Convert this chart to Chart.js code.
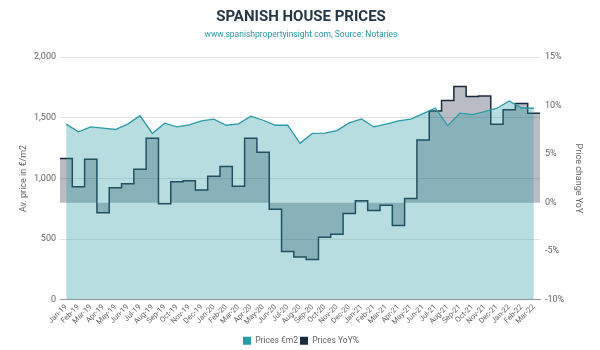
<!DOCTYPE html>
<html>
<head>
<meta charset="utf-8">
<script src="https://cdn.jsdelivr.net/npm/chart.js@4"></script>
<style>
  html, body { margin: 0; padding: 0; background: #fff; }
  #wrap { width: 600px; height: 350px; }
</style>
</head>
<body>
<div id="wrap"><canvas id="myChart" width="600" height="350"></canvas></div>
<script>
"use strict";

const months = [
  "Jan-19", "Feb-19", "Mar-19", "Apr-19", "May-19", "Jun-19", "Jul-19", "Aug-19", "Sep-19", "Oct-19", "Nov-19", "Dec-19",
  "Jan-20", "Feb-20", "Mar-20", "Apr-20", "May-20", "Jun-20", "Jul-20", "Aug-20", "Sep-20", "Oct-20", "Nov-20", "Dec-20",
  "Jan-21", "Feb-21", "Mar-21", "Apr-21", "May-21", "Jun-21", "Jul-21", "Aug-21", "Sep-21", "Oct-21", "Nov-21", "Dec-21",
  "Jan-22", "Feb-22", "Mar-22"
];

// average price in euros per m2
const prices = [
  1448, 1385, 1425, 1415, 1404, 1448, 1518, 1371, 1456, 1425, 1442, 1475,
  1489, 1439, 1450, 1513, 1480, 1439, 1439, 1290, 1371, 1374, 1395, 1458,
  1491, 1425, 1448, 1475, 1489, 1535, 1581, 1436, 1538, 1527, 1551, 1579,
  1639, 1581, 1579
];

// year on year change in %
const yoy = [
  4.55, 1.64, 4.48, -1.03, 1.54, 1.95, 3.46, 6.64, -0.1, 2.16, 2.26, 1.3,
  2.74, 3.73, 1.71, 6.64, 5.2, -0.68, -5.03, -5.6, -5.85, -3.56, -3.25, -1.1,
  0.2, -0.79, -0.27, -2.36, 0.44, 6.47, 9.45, 10.54, 11.98, 10.95, 10.99, 8.08,
  9.58, 10.24, 9.21
];

const priceTicks = [0, 500, 1000, 1500, 2000];
const yoyTicks = [-10, -5, 0, 5, 10, 15];

const teal = "#2b9aa8";
const navy = "#1c2a3e";
const greyText = "#666";

// steps span the full month, so pad both ends half a month
let yoyPoints = yoy.map((v, i) => ({ x: i, y: v }));
yoyPoints.unshift({ x: -0.5, y: yoy[0] });
yoyPoints.push({ x: yoy.length - 0.5, y: yoy[yoy.length - 1] });

Chart.defaults.font.family = "Roboto";
Chart.defaults.color = greyText;

const data = {
  labels: months,
  datasets: [
    {
      label: "Prices €m2",
      data: prices,
      yAxisID: "y",
      xAxisID: "x",
      borderColor: teal,
      backgroundColor: "rgba(43, 154, 168, 0.34)",
      borderWidth: 1.3,
      pointRadius: 0,
      fill: "origin",
      tension: 0,
    },
    {
      label: "Prices YoY%",
      data: yoyPoints,
      yAxisID: "y1",
      xAxisID: "x2",
      borderColor: navy,
      backgroundColor: "rgba(28, 42, 62, 0.31)",
      borderWidth: 1.5,
      pointRadius: 0,
      stepped: "middle",
      fill: "origin",
    },
  ],
};

const config = {
  type: "line",
  data: data,
  options: {
    responsive: false,
    animation: false,
    layout: { padding: { left: 14, right: 12, top: 0, bottom: -5 } },
    plugins: {
      title: {
        display: true,
        text: "SPANISH HOUSE PRICES",
        color: "#253746",
        font: { size: 15, weight: "bold" },
        padding: { top: 8, bottom: 4 },
      },
      subtitle: {
        display: true,
        text: "www.spanishpropertyinsight.com, Source: Notaries",
        color: teal,
        font: { size: 8.5 },
        padding: { top: 0, bottom: 17 },
      },
      legend: {
        position: "bottom",
        labels: {
          boxWidth: 8,
          boxHeight: 8,
          padding: 2,
          font: { size: 8.5 },
          color: greyText,
          generateLabels: (chart) =>
            Chart.defaults.plugins.legend.labels.generateLabels(chart).map((l) => {
              l.fillStyle = chart.data.datasets[l.datasetIndex].borderColor;
              l.lineWidth = 0;
              return l;
            }),
        },
      },
      tooltip: { enabled: false },
    },
    scales: {
      x: {
        type: "category",
        offset: true,
        afterFit: (s) => { s.height += 5; },
        grid: { display: false, drawTicks: false },
        border: { color: "#999", width: 1 },
        ticks: {
          autoSkip: false,
          maxRotation: 45,
          minRotation: 45,
          padding: 3,
          font: { size: 7.5 },
        },
      },
      x2: {
        type: "linear",
        display: false,
        min: -0.5,
        max: months.length - 0.5,
      },
      y: {
        position: "left",
        min: priceTicks[0],
        max: priceTicks[priceTicks.length - 1],
        afterBuildTicks: (s) => { s.ticks = priceTicks.map((v) => ({ value: v })); },
        afterFit: (s) => { s.width = 46; },
        grid: { color: "#e2e2e2", drawTicks: false },
        border: { display: false },
        ticks: { padding: 4, font: { size: 9 } },
        title: { display: true, text: "Av. price in €/m2", font: { size: 9 }, color: greyText },
      },
      y1: {
        position: "right",
        min: yoyTicks[0],
        max: yoyTicks[yoyTicks.length - 1],
        afterBuildTicks: (s) => { s.ticks = yoyTicks.map((v) => ({ value: v })); },
        afterFit: (s) => { s.width = 48; },
        grid: { drawOnChartArea: false, drawTicks: false },
        border: { display: false },
        ticks: { padding: 5, font: { size: 9 }, callback: (v) => v + "%" },
        title: { display: true, text: "Price change YoY", font: { size: 9 }, color: greyText },
      },
    },
  },
};

const canvasChart = document.getElementById("myChart");
new Chart(canvasChart, config);
</script>
</body>
</html>
